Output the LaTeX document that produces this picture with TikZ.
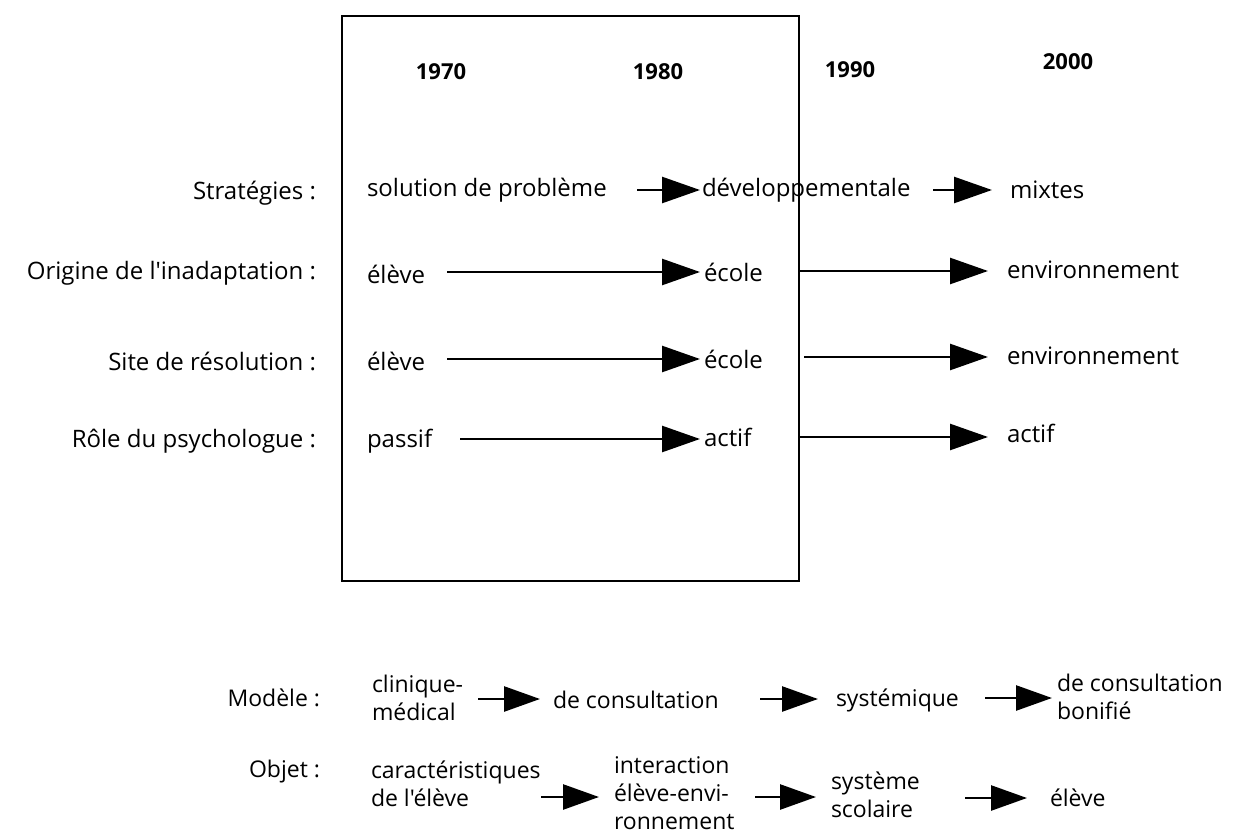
\documentclass[tikz,border=0pt]{standalone}
\usepackage{fontspec}
\setmainfont{Open Sans}[Ligatures=TeXOff]
\usetikzlibrary{arrows.meta}
\begin{document}
\begin{tikzpicture}[x=1pt,y=-1pt,
  every node/.style={inner sep=0pt,outer sep=0pt},
  lbl/.style={anchor=east,font=\fontsize{24}{24}\selectfont},
  txt/.style={anchor=west,font=\fontsize{24}{24}\selectfont},
  ml/.style={anchor=west,align=left,font=\fontsize{23}{28}\selectfont},
  yr/.style={font=\fontsize{22}{22}\selectfont\bfseries},
  arr/.style={line width=2.6pt,-{Triangle[length=38pt,width=26pt]}},
  sarr/.style={line width=2.6pt,-{Triangle[length=36pt,width=25pt]}},
]
\useasboundingbox (0,0) rectangle (1235,835);
% box
\node[draw,line width=1.2pt,minimum width=457pt,minimum height=565pt] (box) at (570.5,298.5) {};
% years
\node[yr] (y70) at (441,72) {1970};
\node[yr] (y80) at (658,72) {1980};
\node[yr] (y90) at (850,70) {1990};
\node[yr] (y00) at (1068,62) {2000};
% row labels
\node[lbl] (l1) at (316,193) {Stratégies :};
\node[lbl] (l2) at (316,273) {Origine de l'inadaptation :};
\node[lbl] (l3) at (316,361) {Site de résolution :};
\node[lbl] (l4) at (316,441) {Rôle du psychologue :};
% row 1
\node[txt] (n11) at (367,190) {solution de problème};
\node[txt] (n12) at (702,190) {développementale};
\node[txt] (n13) at (1010,190) {mixtes};
\coordinate (t11) at (637,190);
\coordinate (t12) at (933,190);
\draw[arr,shorten >=2pt] (t11) -- (n12.west);
\draw[arr,shorten >=18pt] (t12) -- (n13.west);
% row 2
\node[txt] (n21) at (367,274) {élève};
\node[txt] (n22) at (704,272) {école};
\node[txt] (n23) at (1007,270) {environnement};
\coordinate (t21) at (447,272);
\coordinate (t22) at (800,271);
\draw[arr,shorten >=4pt] (t21) -- (n22.west |- t21);
\draw[arr,shorten >=19pt] (t22) -- (n23.west |- t22);
% row 3
\node[txt] (n31) at (367,361) {élève};
\node[txt] (n32) at (704,359) {école};
\node[txt] (n33) at (1007,356) {environnement};
\coordinate (t31) at (447,359);
\coordinate (t32) at (804,357);
\draw[arr,shorten >=4pt] (t31) -- (n32.west |- t31);
\draw[arr,shorten >=19pt] (t32) -- (n33.west |- t32);
% row 4
\node[txt] (n41) at (367,441) {passif};
\node[txt] (n42) at (704,437) {actif};
\node[txt] (n43) at (1007,433) {actif};
\coordinate (t41) at (460,439);
\coordinate (t42) at (800,437);
\draw[arr,shorten >=4pt] (t41) -- (n42.west |- t41);
\draw[arr,shorten >=19pt] (t42) -- (n43.west |- t42);
% Modele
\node[lbl,font=\fontsize{23}{28}\selectfont] (mod) at (320,698) {Modèle :};
\node[ml] (m1) at (372,698) {clinique-\\médical};
\node[ml] (m2) at (553,700) {de consultation};
\node[ml] (m3) at (836,700) {systémique};
\node[ml] (m4) at (1057,697) {de consultation\\bonifié};
\coordinate (u1) at (478,699);
\coordinate (u2) at (760,699);
\coordinate (u3) at (985,698);
\draw[sarr,shorten >=13pt] (u1) -- (m2.west |- u1);
\draw[sarr,shorten >=18pt] (u2) -- (m3.west |- u2);
\draw[sarr,shorten >=5pt] (u3) -- (m4.west |- u3);
% Objet
\node[lbl,font=\fontsize{23}{28}\selectfont] (obj) at (320,772) {Objet :};
\node[ml] (o1) at (371,784) {caractéristiques\\de l'élève};
\node[ml] (o2) at (614,793) {interaction\\élève-envi-\\ronnement};
\node[ml] (o3) at (831,795) {système\\scolaire};
\node[ml] (o4) at (1050,798) {élève};
\coordinate (v1) at (541,797);
\coordinate (v2) at (755,797);
\coordinate (v3) at (965,798);
\draw[sarr,shorten >=15pt] (v1) -- (o2.west |- v1);
\draw[sarr,shorten >=15pt] (v2) -- (o3.west |- v2);
\draw[sarr,shorten >=23pt] (v3) -- (o4.west |- v3);
\end{tikzpicture}
\end{document}
